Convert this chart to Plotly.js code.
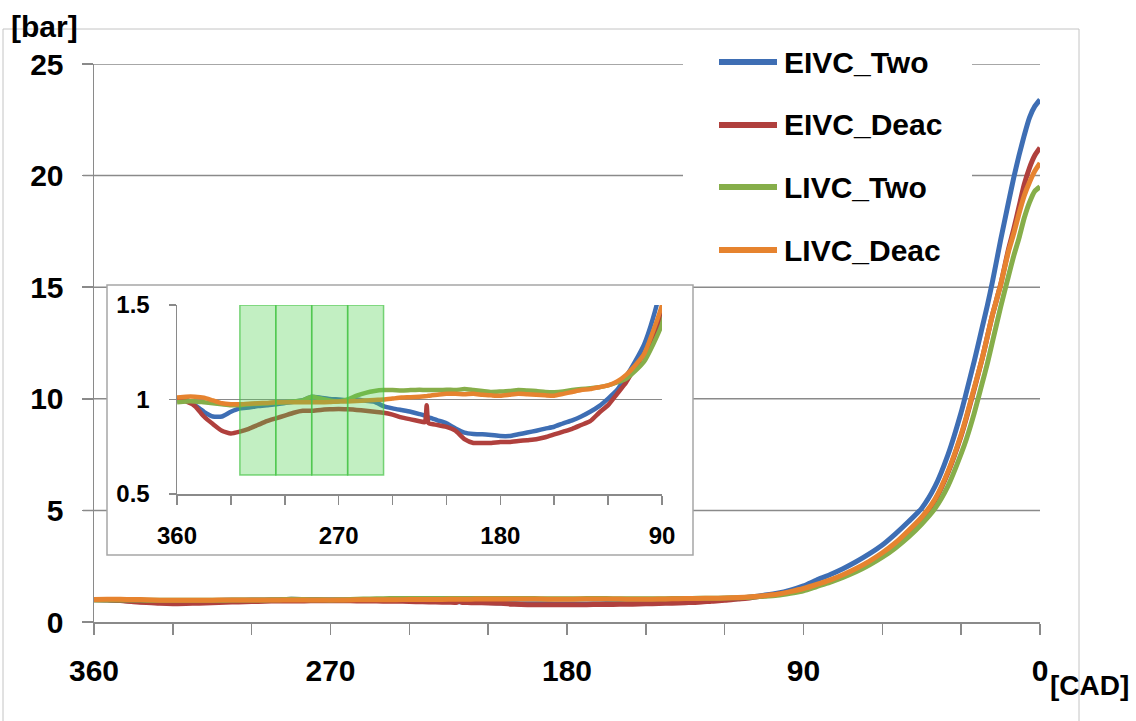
<!DOCTYPE html>
<html>
<head>
<meta charset="utf-8">
<script src="https://cdn.plot.ly/plotly-3.0.1.min.js"></script>
<style>html,body{margin:0;padding:0;background:#fff;}#chart{width:1136px;height:721px;}</style>
</head>
<body>
<div id="chart"></div>
<script>
// ---------- data ----------
const cad = [360,355,350,345,340,335,330,325,320,315,310,305,300,295,290,285,280,275,270,265,260,255,250,245,240,235,230,225,
  222,221,220,218,
  215,210,205,200,195,190,185,180,175,170,165,160,155,150,145,140,135,130,125,120,115,110,105,100,95,90,
  85,80,75,70,65,60,55,50,45,40,35,
  30,28,25,22,20,18,15,12,10,8,6,4,2,0];

const eivcTwo = [1.005,1.0,0.97,0.935,0.91,0.91,0.935,0.953,0.958,0.965,0.97,0.975,0.982,0.988,0.996,1.015,1.01,1.003,1.0,0.996,1.0,0.993,0.988,0.965,0.953,0.944,0.935,0.923,
  0.915,0.91,0.905,0.9,
  0.89,0.874,0.847,0.825,0.818,0.816,0.812,0.807,0.807,0.816,0.825,0.835,0.846,0.856,0.874,0.89,0.91,0.935,0.965,1.005,1.05,1.12,1.2,1.29,1.43,1.62,
  1.88,2.12,2.39,2.7,3.05,3.45,3.95,4.5,5.1,6.06,7.5,
  9.4,10.3,11.7,13.2,14.2,15.3,17.1,18.8,19.9,20.9,21.8,22.6,23.1,23.4];

const eivcDeac = [1.0,0.99,0.965,0.91,0.87,0.835,0.82,0.83,0.845,0.865,0.885,0.9,0.915,0.93,0.94,0.94,0.945,0.948,0.95,0.948,0.945,0.94,0.935,0.93,0.92,0.905,0.895,0.885,
  0.88,0.97,0.875,0.87,
  0.865,0.855,0.835,0.79,0.77,0.77,0.77,0.775,0.775,0.78,0.785,0.79,0.8,0.815,0.83,0.845,0.865,0.885,0.93,0.97,1.03,1.09,1.17,1.24,1.33,1.45,
  1.63,1.84,2.08,2.36,2.68,3.06,3.5,4.05,4.65,5.45,6.7,
  8.35,9.15,10.45,11.8,12.8,13.8,15.1,16.7,17.6,18.6,19.6,20.35,20.9,21.25];

const livcTwo = [0.985,0.99,0.99,0.985,0.98,0.975,0.97,0.97,0.975,0.978,0.98,0.983,0.986,0.99,0.995,1.015,1.005,0.995,0.99,1.0,1.02,1.035,1.045,1.05,1.05,1.048,1.05,1.052,
  1.05,1.05,1.05,1.05,
  1.05,1.052,1.05,1.055,1.05,1.045,1.04,1.042,1.045,1.05,1.048,1.045,1.04,1.038,1.042,1.05,1.055,1.06,1.065,1.075,1.09,1.11,1.15,1.2,1.29,1.4,
  1.59,1.78,2.0,2.25,2.55,2.9,3.32,3.81,4.39,5.08,6.1,
  7.54,8.2,9.37,10.7,11.6,12.6,14.1,15.5,16.4,17.2,18.1,18.8,19.3,19.5];

const livcDeac = [1.01,1.015,1.015,1.01,0.995,0.98,0.975,0.975,0.978,0.98,0.982,0.985,0.985,0.985,0.985,0.985,0.985,0.987,0.99,0.99,0.992,0.995,0.998,1.0,1.005,1.01,1.012,1.015,
  1.017,1.018,1.02,1.022,
  1.025,1.03,1.03,1.028,1.03,1.025,1.022,1.02,1.025,1.03,1.028,1.025,1.022,1.02,1.03,1.04,1.05,1.055,1.065,1.075,1.095,1.13,1.18,1.24,1.36,1.5,
  1.68,1.88,2.12,2.4,2.72,3.1,3.55,4.1,4.7,5.5,6.75,
  8.4,9.2,10.5,11.8,12.8,13.8,15.1,16.6,17.4,18.3,19.1,19.7,20.2,20.56];

const seriesNames = ['EIVC_Two','EIVC_Deac','LIVC_Two','LIVC_Deac'];
const seriesValues = [eivcTwo, eivcDeac, livcTwo, livcDeac];
const seriesColors = ['#3E6EB4','#B0403D','#86AE4A','#E6832F'];

const mainTickVals = [360,330,300,270,240,210,180,150,120,90,60,30,0];
const mainTickText = ['360','','','270','','','180','','','90','','','0'];
const mainYTicks = [0,5,10,15,20,25];
const insetTickVals = [360,330,300,270,240,210,180,150,120,90];
const insetTickText = ['360','','','270','','','180','','','90'];
const insetYTicks = [0.5,1,1.5];
const insetYText = ['0.5','1','1.5'];
const shadeEdges = [325,305,285,265,245];
const shadeRange = [0.6,1.5];

// ---------- layout helpers (pixel -> paper) ----------
const L=94, R=1040, T=64, B=622, W=R-L, H=B-T;
const px = x => (x-L)/W;
const py = y => (B-y)/H;
const GRID = '#8a8a8a';
const FONT = '"Liberation Sans", Arial, sans-serif';

const traces = [];
seriesValues.forEach((vals,i)=>{
  traces.push({x:cad, y:vals, xaxis:'x', yaxis:'y', type:'scatter', mode:'lines', name:seriesNames[i],
    line:{color:seriesColors[i], width:5, shape:'spline', smoothing:0.6}, hoverinfo:'skip'});
});
seriesValues.forEach((vals,i)=>{
  traces.push({x:cad, y:vals, xaxis:'x2', yaxis:'y2', type:'scatter', mode:'lines', name:seriesNames[i],
    line:{color:seriesColors[i], width:4.5, shape:'spline', smoothing:0.5}, hoverinfo:'skip', showlegend:false});
});

const shapes = [];
// main gridlines (lower layer so the inset box can cover them)
mainYTicks.slice(1).forEach(v=>{
  shapes.push({type:'line', xref:'paper', yref:'y', x0:px(83), x1:1, y0:v, y1:v, line:{color:GRID, width:1.5}, layer:'below'});
});
// outer chart frame
shapes.push({type:'rect', xref:'paper', yref:'paper', x0:px(3), x1:px(1079), y0:py(740), y1:py(29),
  line:{color:'#c4c4c4', width:1}, fillcolor:'rgba(0,0,0,0)', layer:'below'});
// legend background
shapes.push({type:'rect', xref:'paper', yref:'paper', x0:px(683), x1:px(972), y0:py(275), y1:py(36),
  line:{width:0}, fillcolor:'#ffffff', layer:'below'});
// inset box
shapes.push({type:'rect', xref:'paper', yref:'paper', x0:px(107), x1:px(693), y0:py(555), y1:py(285),
  line:{color:'#a6a6a6', width:1.5}, fillcolor:'#ffffff', layer:'below'});
// green shaded windows in inset
for(let i=0;i<shadeEdges.length-1;i++){
  shapes.push({type:'rect', xref:'x2', yref:'y2', x0:shadeEdges[i], x1:shadeEdges[i+1], y0:shadeRange[0], y1:shadeRange[1],
    fillcolor:'rgba(80,210,80,0.35)', line:{color:'rgba(70,195,70,0.7)', width:1.5}, layer:'above'});
}
// legend
const legendY = [62,125,187,250];
const annotations = [];
seriesNames.forEach((n,i)=>{
  shapes.push({type:'line', xref:'paper', yref:'paper', x0:px(719), x1:px(777), y0:py(legendY[i]), y1:py(legendY[i]),
    line:{color:seriesColors[i], width:6}, layer:'above'});
  annotations.push({text:n, xref:'paper', yref:'paper', x:px(782), y:py(legendY[i]), xanchor:'left', yanchor:'middle',
    showarrow:false, font:{size:30, family:FONT, color:'#000', weight:'bold'}});
});
annotations.push({text:'[bar]', xref:'paper', yref:'paper', x:px(44), y:py(27), xanchor:'center', yanchor:'middle',
  showarrow:false, font:{size:30, family:FONT, color:'#000', weight:'bold'}});
annotations.push({text:'[CAD]', xref:'paper', yref:'paper', x:px(1089), y:py(685), xanchor:'center', yanchor:'middle',
  showarrow:false, font:{size:28, family:FONT, color:'#000', weight:'bold'}});

const axisCommon = {ticks:'outside', tickcolor:GRID, tickwidth:1.5, showline:true, linecolor:GRID, linewidth:1.5,
  zeroline:false, fixedrange:true};

const layout = {
  width:1136, height:721,
  margin:{l:L, r:1136-R, t:T, b:721-B, pad:0},
  paper_bgcolor:'#ffffff', plot_bgcolor:'#ffffff',
  showlegend:false,
  font:{family:FONT, size:30, color:'#000', weight:'bold'},
  xaxis:Object.assign({}, axisCommon, {domain:[0,1], anchor:'y', range:[360,0], tickmode:'array',
    tickvals:mainTickVals, ticktext:mainTickText, ticklen:11, showgrid:false,
    tickfont:{size:30, family:FONT, color:'#000', weight:'bold'}, ticklabelstandoff:10}),
  yaxis:Object.assign({}, axisCommon, {domain:[0,1], anchor:'x', range:[0,25], tickmode:'array',
    tickvals:mainYTicks, ticklen:11, showgrid:false,
    tickfont:{size:30, family:FONT, color:'#000', weight:'bold'}, ticklabelstandoff:12}),
  xaxis2:Object.assign({}, axisCommon, {domain:[px(177),px(662)], anchor:'y2', range:[360,90], tickmode:'array',
    tickvals:insetTickVals, ticktext:insetTickText, ticklen:9, showgrid:false,
    tickfont:{size:24, family:FONT, color:'#000', weight:'bold'}, ticklabelstandoff:11}),
  yaxis2:Object.assign({}, axisCommon, {domain:[py(494),py(305)], anchor:'x2', range:[0.5,1.5], tickmode:'array',
    tickvals:insetYTicks, ticktext:insetYText, ticklen:7, showgrid:true, gridcolor:GRID, gridwidth:1.5,
    tickfont:{size:24, family:FONT, color:'#000', weight:'bold'}, ticklabelstandoff:14}),
  shapes:shapes,
  annotations:annotations
};

Plotly.newPlot('chart', traces, layout, {staticPlot:true, displayModeBar:false});
</script>
</body>
</html>
